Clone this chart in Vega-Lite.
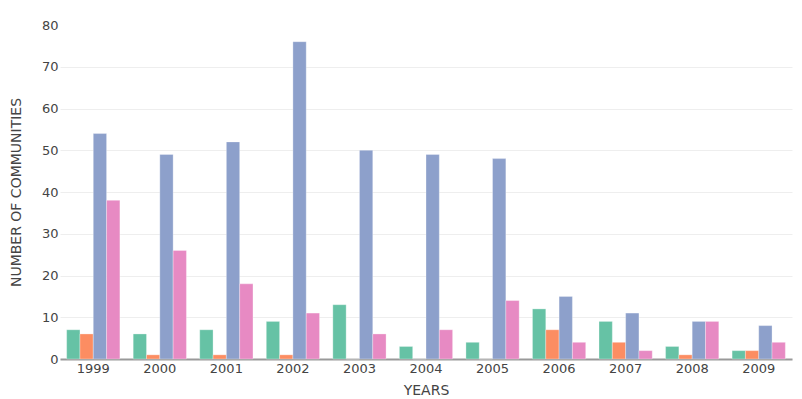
{
  "$schema": "https://vega.github.io/schema/vega-lite/v6.json",
  "autosize": "none",
  "width": 732,
  "height": 334,
  "padding": {"left": 60, "top": 25, "right": 10, "bottom": 40},
  "background": "white",
  "config": {
    "font": "DejaVu Sans",
    "view": {"stroke": null}
  },
  "data": {
    "values": [
      {"year": "1999", "series": "A", "count": 7},
      {"year": "1999", "series": "B", "count": 6},
      {"year": "1999", "series": "C", "count": 54},
      {"year": "1999", "series": "D", "count": 38},
      {"year": "2000", "series": "A", "count": 6},
      {"year": "2000", "series": "B", "count": 1},
      {"year": "2000", "series": "C", "count": 49},
      {"year": "2000", "series": "D", "count": 26},
      {"year": "2001", "series": "A", "count": 7},
      {"year": "2001", "series": "B", "count": 1},
      {"year": "2001", "series": "C", "count": 52},
      {"year": "2001", "series": "D", "count": 18},
      {"year": "2002", "series": "A", "count": 9},
      {"year": "2002", "series": "B", "count": 1},
      {"year": "2002", "series": "C", "count": 76},
      {"year": "2002", "series": "D", "count": 11},
      {"year": "2003", "series": "A", "count": 13},
      {"year": "2003", "series": "B", "count": 0},
      {"year": "2003", "series": "C", "count": 50},
      {"year": "2003", "series": "D", "count": 6},
      {"year": "2004", "series": "A", "count": 3},
      {"year": "2004", "series": "B", "count": 0},
      {"year": "2004", "series": "C", "count": 49},
      {"year": "2004", "series": "D", "count": 7},
      {"year": "2005", "series": "A", "count": 4},
      {"year": "2005", "series": "B", "count": 0},
      {"year": "2005", "series": "C", "count": 48},
      {"year": "2005", "series": "D", "count": 14},
      {"year": "2006", "series": "A", "count": 12},
      {"year": "2006", "series": "B", "count": 7},
      {"year": "2006", "series": "C", "count": 15},
      {"year": "2006", "series": "D", "count": 4},
      {"year": "2007", "series": "A", "count": 9},
      {"year": "2007", "series": "B", "count": 4},
      {"year": "2007", "series": "C", "count": 11},
      {"year": "2007", "series": "D", "count": 2},
      {"year": "2008", "series": "A", "count": 3},
      {"year": "2008", "series": "B", "count": 1},
      {"year": "2008", "series": "C", "count": 9},
      {"year": "2008", "series": "D", "count": 9},
      {"year": "2009", "series": "A", "count": 2},
      {"year": "2009", "series": "B", "count": 2},
      {"year": "2009", "series": "C", "count": 8},
      {"year": "2009", "series": "D", "count": 4}
    ]
  },
  "mark": {"type": "bar", "stroke": "white", "strokeWidth": 0.5, "strokeOpacity": 0.6},
  "encoding": {
    "x": {
      "field": "year",
      "type": "nominal",
      "scale": {"paddingInner": 0.2, "paddingOuter": 0.1},
      "axis": {
        "title": "YEARS",
        "titleFont": "DejaVu Sans",
        "titleFontSize": 14,
        "titleFontWeight": "normal",
        "titleColor": "#444",
        "titlePadding": 8,
        "labelAngle": 0,
        "labelFont": "DejaVu Sans",
        "labelFontSize": 13,
        "labelColor": "#444",
        "labelPadding": 3,
        "ticks": false,
        "domainColor": "#999",
        "domainWidth": 2,
        "grid": false
      }
    },
    "xOffset": {"field": "series", "type": "nominal", "scale": {"paddingInner": 0, "paddingOuter": 0}},
    "y": {
      "field": "count",
      "type": "quantitative",
      "scale": {"domain": [0, 80], "nice": false},
      "axis": {
        "title": "NUMBER OF COMMUNITIES",
        "titleFont": "DejaVu Sans",
        "titleFontSize": 14,
        "titleFontWeight": "normal",
        "titleColor": "#444",
        "titlePadding": 18,
        "values": [0, 10, 20, 30, 40, 50, 60, 70, 80],
        "labelFont": "DejaVu Sans",
        "labelFontSize": 13,
        "labelColor": "#444",
        "labelPadding": 2,
        "ticks": false,
        "tickSize": 0,
        "domain": false,
        "gridColor": {"condition": {"test": "datum.value === 80", "value": "transparent"}, "value": "#eee"},
        "gridWidth": 1
      }
    },
    "color": {
      "field": "series",
      "type": "nominal",
      "scale": {"range": ["#66c2a5", "#fc8d62", "#8da0cb", "#e78ac3"]},
      "legend": null
    }
  }
}
